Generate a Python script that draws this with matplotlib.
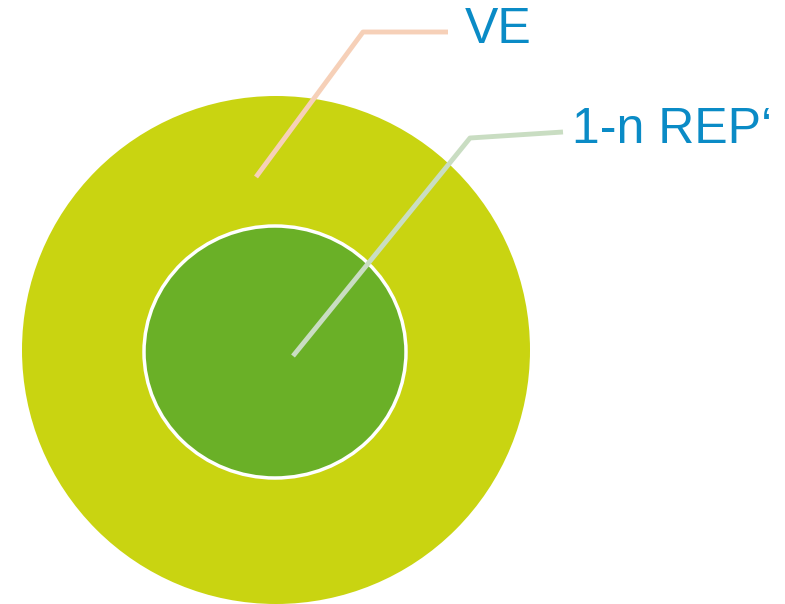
import matplotlib.pyplot as plt
from matplotlib.patches import Circle, Ellipse

# layers of the diagram (outer -> inner)
labels = ["VE", "1-n REP\u2018"]
colors = ["#c9d411", "#6ab027"]
line_colors = ["#f6d0b8", "#c9ddc2"]

fig = plt.figure(figsize=(7.85, 6.04), dpi=100)
ax = fig.add_axes([0, 0, 1, 1])
ax.set_xlim(0, 785)
ax.set_ylim(604, 0)
ax.set_aspect("equal")
ax.axis("off")

# outer ring
ax.add_patch(Circle((276, 350), 254, facecolor=colors[0], edgecolor="none"))
# inner circle with white border
ax.add_patch(Ellipse((275, 352), 262, 252, facecolor=colors[1],
                     edgecolor="white", linewidth=2.5))

# leader lines
ax.plot([256, 363, 448], [177, 32, 32], color=line_colors[0], lw=3.5,
        solid_capstyle="butt")
ax.plot([293, 470, 563], [356, 138, 132], color=line_colors[1], lw=3.5,
        solid_capstyle="butt")

ax.text(465, 30, labels[0], fontsize=36, color="#0a8bc6",
        family="Liberation Sans", va="center", ha="left")
ax.text(572, 130, labels[1], fontsize=36, color="#0a8bc6",
        family="Liberation Sans", va="center", ha="left")

plt.savefig("out.png", dpi=100)
